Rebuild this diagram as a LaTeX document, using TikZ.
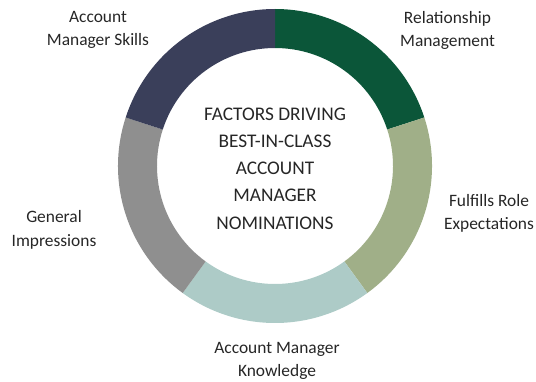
\documentclass[tikz,border=0pt]{standalone}
\usepackage{fontspec}
\setmainfont{Carlito}
\definecolor{cgreen}{HTML}{0B5639}
\definecolor{colive}{HTML}{A0AF88}
\definecolor{cteal}{HTML}{ADCBC7}
\definecolor{cgray}{HTML}{8F8F8F}
\definecolor{cnavy}{HTML}{3A3F5A}
\definecolor{ctext}{HTML}{262626}
\begin{document}
\begin{tikzpicture}[x=1pt,y=1pt,
  lbl/.style={align=center,anchor=base,text=ctext,inner sep=0pt,font=\fontsize{17.4}{23.3}\selectfont},
  ctr/.style={align=center,anchor=base,text=ctext,inner sep=0pt,font=\fontsize{19.3}{27.3}\selectfont}]
\useasboundingbox (0,0) rectangle (536,381);
\coordinate (c) at (275,215);
\def\seg#1#2#3{\fill[#3] ([shift={(#1:157)}]c) arc[start angle=#1,end angle=#2,radius=157]
  -- ([shift={(#2:118)}]c) arc[start angle=#2,end angle=#1,radius=118] -- cycle;}
\seg{90}{18}{cgreen}
\seg{18}{-54}{colive}
\seg{-54}{-126}{cteal}
\seg{-126}{-198}{cgray}
\seg{162}{90}{cnavy}
\node[lbl] (ams) at (98,335) {Account\\Manager Skills};
\node[lbl] (rm) at (447.5,334.4) {Relationship\\Management};
\node[lbl] (gi) at (54,135) {General\\Impressions};
\node[lbl] (fre) at (489,151.7) {Fulfills Role\\Expectations};
\node[lbl] (amk) at (277,4.4) {Account Manager\\Knowledge};
\node[ctr] (title) at (275,151.8) {FACTORS DRIVING\\BEST-IN-CLASS\\ACCOUNT\\MANAGER\\NOMINATIONS};
\end{tikzpicture}
\end{document}
